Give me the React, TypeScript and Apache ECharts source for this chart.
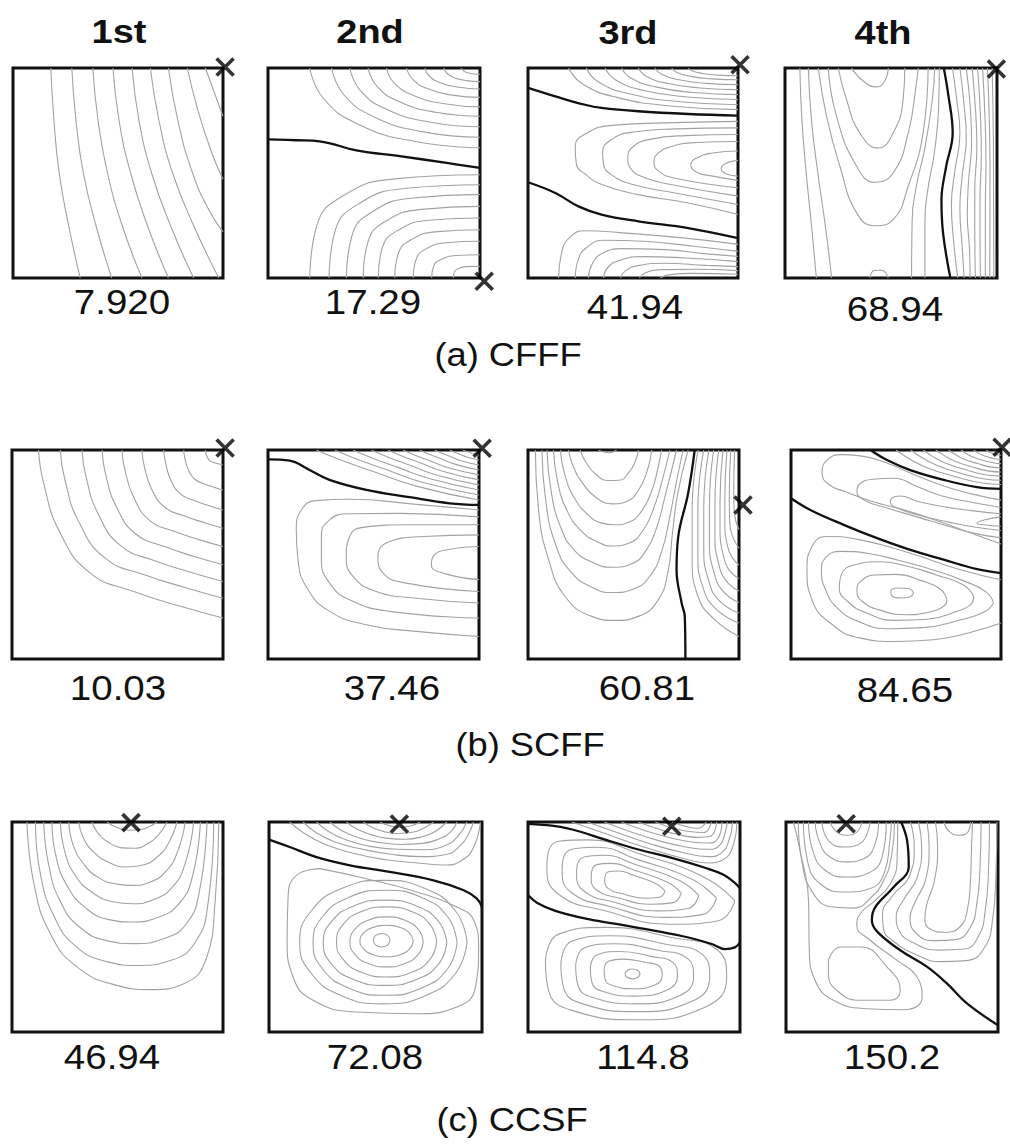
import React, { useEffect, useRef } from "react";
import * as echarts from "echarts";

type Pt = [number, number];

// ---------- text content ----------
const HEADS = ["1st", "2nd", "3rd", "4th"];
const FREQS = ["7.920", "17.29", "41.94", "68.94", "10.03", "37.46", "60.81", "84.65", "46.94", "72.08", "114.8", "150.2"];
const CAPTIONS = ["(a) CFFF", "(b) SCFF", "(c) CCSF"];

// ---------- contour data (u: 0..100 left->right, v: 0..100 top->bottom) ----------
const P1_THIN: Pt[][] = [
  [[18, 0], [19.5, 25], [22, 50], [26.5, 75], [32, 100]],
  [[28, 0], [30, 25], [33.5, 50], [39.5, 75], [47, 100]],
  [[38, 0], [40.5, 25], [45, 50], [52, 75], [61.4, 100]],
  [[47.6, 0], [50.5, 25], [56, 50], [64, 75], [74, 100]],
  [[56.7, 0], [60, 25], [66, 50], [75, 75], [86, 100]],
  [[65.4, 0], [69.5, 25], [76, 50], [86, 75], [98, 100]],
  [[74, 0], [78.5, 25], [85.5, 50], [93.5, 68], [100, 78]],
  [[83, 0], [88, 20], [94.5, 40], [100, 53]],
  [[91.6, 0], [96, 12], [100, 23]],
];
const P1_THICK: Pt[][] = [];

const P2_THIN: Pt[][] = [
  [[19.7, 0], [26.1, 14.4], [43, 27], [69.5, 35], [100, 38]],
  [[30, 0], [35.6, 12.5], [50.3, 23.4], [73.4, 30.4], [100, 33]],
  [[38.6, 0], [43.5, 10.6], [56.4, 19.9], [76.7, 25.8], [100, 28]],
  [[47.2, 0], [51.4, 8.7], [62.5, 16.3], [79.9, 21.2], [100, 23]],
  [[55.9, 0], [59.4, 7], [68.7, 13.1], [83.2, 17], [100, 18.5]],
  [[65.4, 0], [68.2, 5.3], [75.4, 9.9], [86.9, 12.9], [100, 14]],
  [[74, 0], [76, 3.8], [81.5, 7.1], [90.1, 9.2], [100, 10]],
  [[83, 0], [84.4, 2.5], [87.9, 4.6], [93.5, 6], [100, 6.5]],
  [[91, 0], [93.6, 2.1], [100, 3]],
  [[19.7, 100], [22.9, 75.4], [35.8, 60.6], [59.9, 52.8], [100, 50.8]],
  [[28.8, 100], [31.6, 77.8], [43, 64.5], [64.4, 57.4], [100, 55.6]],
  [[37, 100], [39.5, 80.2], [49.6, 68.2], [68.5, 61.9], [100, 60.3]],
  [[44.9, 100], [47.1, 83], [55.9, 72.7], [72.5, 67.3], [100, 65.9]],
  [[52, 100], [53.9, 85.7], [61.6, 77.1], [76, 72.5], [100, 71.4]],
  [[59.8, 100], [61.4, 88.5], [67.8, 81.6], [79.9, 77.9], [100, 77]],
  [[68.5, 100], [69.8, 91.3], [74.8, 86], [84.3, 83.2], [100, 82.5]],
  [[77.2, 100], [78.1, 94.5], [81.8, 91.1], [88.6, 89.3], [100, 88.9]],
  [[87.4, 100], [87.9, 97.2], [89.9, 95.5], [93.7, 94.6], [100, 94.4]],
];
const P2_THICK: Pt[][] = [
  [[0, 34], [13.4, 34.4], [24.4, 34.9], [41.7, 39.2], [62.2, 42], [84.3, 45.2], [100, 47.6]],
];

const P3_THIN: Pt[][] = [
  [[19.3, 0], [25.8, 7.5], [42.7, 14.1], [69.3, 18.2], [100, 19.8]],
  [[27.8, 0], [33.6, 6.7], [48.7, 12.4], [72.6, 16.1], [100, 17.5]],
  [[36.7, 0], [41.8, 5.7], [55.1, 10.7], [75.9, 13.8], [100, 15]],
  [[44.6, 0], [49, 4.8], [60.7, 9], [78.9, 11.7], [100, 12.7]],
  [[52.5, 0], [56.3, 3.9], [66.3, 7.3], [82, 9.5], [100, 10.3]],
  [[60.4, 0], [63.6, 3], [71.9, 5.6], [85, 7.3], [100, 7.9]],
  [[68.4, 0], [70.9, 2.1], [77.6, 4], [88, 5.2], [100, 5.6]],
  [[76.3, 0], [78.2, 1.4], [83.2, 2.6], [91, 3.4], [100, 3.7]],
  [[100, 25.4], [70, 26], [40, 27.3], [28, 31], [22.5, 37.5], [23, 45.5], [27.6, 50.8], [35.5, 55.6], [52.5, 60.3], [76.3, 64.3], [100, 69.8]],
  [[100, 28.5], [70, 29], [50, 30.5], [40, 34], [35.5, 40], [36, 46], [40, 51], [50, 55.5], [70, 59.5], [100, 65]],
  [[100, 31.7], [75, 32.2], [58, 34], [50, 37.5], [47.5, 43], [49, 48], [55, 52], [68, 55.5], [100, 61]],
  [[100, 35], [80, 35.5], [68, 37.5], [61.5, 41], [60, 45], [62, 49], [70, 52.5], [100, 57]],
  [[100, 39.5], [88, 40.5], [80, 43], [77.5, 46], [80, 49.5], [88, 51.5], [100, 53.5]],
  [[100, 44], [94, 45.5], [92, 48], [94, 50.2], [100, 51.5]],
  [[14.6, 100], [16, 88], [19.5, 81], [27, 77.5], [45, 78.5], [75, 81], [100, 84]],
  [[22.5, 100], [24, 91], [28, 85.5], [36, 82], [55, 82.5], [80, 85], [100, 87.3]],
  [[28.8, 100], [30.5, 93.5], [35, 88.5], [45, 86], [65, 86.5], [85, 88.5], [100, 89.7]],
  [[36, 100], [38, 95], [44, 91.5], [55, 89.8], [75, 90.5], [100, 92.2]],
  [[44, 100], [46.5, 96.5], [53, 94], [65, 93], [85, 94], [100, 94.6]],
  [[53, 100], [56, 97.5], [64, 96], [80, 95.8], [100, 96.5]],
  [[63, 100], [67, 98.5], [78, 97.8], [100, 98.2]],
];
const P3_THICK: Pt[][] = [
  [[0, 9.5], [13, 13.5], [27.2, 17.5], [35, 19], [52.5, 20.6], [76.3, 21.9], [100, 22.7]],
  [[0, 54.4], [13, 59.5], [24, 65.9], [35, 69.8], [52.5, 73], [76.3, 76.2], [100, 81]],
];

const P4_THIN: Pt[][] = [
  [[79, 0], [81, 15], [82.5, 31], [80, 50], [78.5, 65], [79.5, 82], [81.5, 100]],
  [[82.5, 0], [84.5, 18], [85.5, 33], [83.5, 52], [82.5, 67], [83.5, 84], [84.5, 100]],
  [[85.5, 0], [87.5, 20], [88, 35], [86.5, 55], [86, 70], [87, 86], [87.3, 100]],
  [[88.3, 0], [90, 22], [90.5, 38], [89.5, 58], [89.5, 75], [89.8, 100]],
  [[90.8, 0], [92.3, 25], [92.6, 42], [92, 62], [92, 80], [92.2, 100]],
  [[93.2, 0], [94.5, 28], [94.8, 46], [94.5, 66], [94.5, 100]],
  [[95.5, 0], [96.5, 30], [96.7, 50], [96.6, 100]],
  [[97.7, 0], [98.3, 35], [98.5, 100]],
  [[7, 0], [8, 25], [10, 50], [12.5, 75], [14.8, 100]],
  [[11, 0], [12.5, 25], [15.5, 50], [19, 75], [22, 100]],
  [[15.7, 0], [19.6, 23], [25.9, 46.8], [33.8, 69], [42.4, 75.1], [51, 72.2], [58.1, 56.3], [65.1, 31], [67.5, 0]],
  [[20.4, 0], [24.3, 23], [33.8, 46.8], [42.4, 54.4], [51, 50], [58.1, 31], [62, 7.1], [62.8, 0]],
  [[25.1, 0], [29, 15], [35.3, 31], [44, 38.1], [51, 31], [55.7, 15], [56.5, 0]],
  [[31.4, 0], [37, 6.3], [43.2, 9], [47, 6.3], [48.7, 0]],
  [[40, 100], [42.4, 96.3], [45.5, 96.3], [48.7, 100]],
  [[70.6, 0], [69.5, 15], [66, 38], [62, 56], [60, 72], [59.7, 100]],
  [[72.8, 0], [72.5, 18], [70.5, 40], [67.5, 57], [66, 73], [66, 100]],
];
const P4_THICK: Pt[][] = [
  [[74.9, 0], [76.9, 12], [79.1, 31], [76, 47], [73.8, 63], [74.6, 79], [78, 100]],
];

const P5_THIN: Pt[][] = [
  [[12.6, 0], [15, 15.9], [22.9, 39.8], [37.1, 58.9], [57.7, 67.7], [79.9, 74.8], [100, 80.4]],
  [[22.9, 0], [25, 14], [32, 35.1], [44.5, 52], [62.7, 59.7], [82.3, 65.9], [100, 70.9]],
  [[33.2, 0], [35, 12.5], [41.1, 31.1], [51.9, 46.1], [67.7, 53], [84.6, 58.5], [100, 62.9]],
  [[42.7, 0], [44.2, 10.9], [49.5, 27.2], [58.7, 40.2], [72.3, 46.2], [86.8, 51.1], [100, 54.9]],
  [[52.1, 0], [53.4, 9.1], [57.8, 22.9], [65.5, 33.9], [76.8, 38.9], [89, 43], [100, 46.2]],
  [[61.6, 0], [62.6, 7.4], [66.1, 18.5], [72.4, 27.4], [81.4, 31.5], [91.2, 34.8], [100, 37.4]],
  [[71.9, 0], [72.7, 5.7], [75.2, 14.2], [79.8, 21], [86.4, 24.2], [93.5, 26.7], [100, 28.7]],
  [[81.4, 0], [81.9, 3.8], [83.6, 9.5], [86.6, 14], [91, 16.1], [95.7, 17.8], [100, 19.1]],
  [[91.6, 0], [91.8, 1.4], [92.6, 3.6], [94, 5.3], [95.9, 6.1], [98.1, 6.7], [100, 7.2]],
];
const P5_THICK: Pt[][] = [];

const P6_THIN: Pt[][] = [
  [[22.9, 0], [34.5, 4.8], [49.9, 10.3], [70.7, 17.4], [100, 23.9]],
  [[31.6, 0], [41.9, 4.3], [55.5, 9.2], [74, 15.7], [100, 21.5]],
  [[40.3, 0], [49.3, 3.8], [61.2, 8.2], [77.3, 13.9], [100, 19.1]],
  [[49, 0], [56.7, 3.3], [66.9, 7.2], [80.6, 12.2], [100, 16.7]],
  [[56.9, 0], [63.4, 2.9], [72, 6.1], [83.6, 10.4], [100, 14.3]],
  [[64, 0], [69.4, 2.4], [76.6, 5.1], [86.3, 8.7], [100, 11.9]],
  [[71.9, 0], [76.1, 1.9], [81.7, 4.1], [89.3, 7], [100, 9.6]],
  [[79, 0], [82.2, 1.4], [86.4, 3.1], [92, 5.3], [100, 7.2]],
  [[86.1, 0], [88.2, 1], [91, 2.1], [94.7, 3.5], [100, 4.8]],
  [[92.4, 0], [93.5, 0.5], [95.1, 1], [97.1, 1.8], [100, 2.4]],
  [[100, 28.7], [70.3, 26], [38.7, 23.6], [22.9, 24.2], [15.8, 28.7], [13.4, 38.2], [14.2, 52.5], [19, 66.9], [29.2, 77.2], [46.6, 83.6], [70.3, 86.8], [100, 89.2]],
  [[100, 32], [62.4, 30.3], [38.7, 30.5], [29.2, 33.4], [25.3, 41.4], [25.3, 52.5], [29.2, 63.7], [38.7, 71.7], [57.7, 77.2], [100, 80.4]],
  [[100, 35.8], [67.1, 35.8], [45, 37], [38.7, 41.4], [37.1, 51], [40.3, 60.5], [51.3, 67.7], [70.3, 70.9], [100, 73.2]],
  [[100, 40.6], [73.5, 41.4], [57.7, 43.8], [52.1, 51], [54.5, 58.9], [65.6, 63.7], [100, 67.7]],
  [[100, 46.2], [86.1, 47.5], [78.2, 51], [77.4, 55], [82.9, 58.9], [100, 62]],
];
const P6_THICK: Pt[][] = [
  [[0, 4.5], [10.3, 5.1], [19.7, 9.6], [29.1, 14.3], [46.6, 19.1], [67.1, 22.6], [86.1, 25.5], [100, 26.3]],
];

const P7_THIN: Pt[][] = [
  [[33.4, 0], [36, 1], [38.5, 1.3], [42, 0]],
  [[24.7, 0], [27.5, 6], [32, 11.5], [38, 14.6], [43, 14.5], [48, 10.5], [51, 5], [52.3, 0]],
  [[19.2, 0], [21.5, 8], [26, 16], [32, 22.5], [40, 25.8], [47, 24.5], [52.5, 19], [56.5, 10], [58.6, 0]],
  [[15.3, 0], [17.5, 12], [22, 23], [28.5, 31], [35, 35], [41, 35.8], [48, 34.5], [54, 29], [58.5, 20], [61.5, 9], [63.3, 0]],
  [[12.1, 0], [14, 15], [18.5, 29], [25, 38.5], [33, 44], [40, 45.9], [48, 44.5], [54.5, 38.5], [59.5, 28], [63.5, 15], [67.2, 0]],
  [[9, 0], [11, 20], [15.5, 37], [22, 48], [31, 54], [40, 56.1], [49, 54.5], [56, 48], [61, 37], [65, 22], [70.4, 0]],
  [[6.6, 0], [8.5, 25], [13, 45], [20, 58], [30, 65.5], [40, 68.2], [50, 66.5], [58, 60], [63.5, 48], [67, 33], [70, 17], [73.5, 0]],
  [[3.5, 0], [5, 28.7], [9.8, 52.5], [17.6, 70.1], [30.2, 79.6], [41.3, 81.5], [52.3, 79.6], [61.7, 71.7], [66.5, 57.3], [68.3, 41.4], [71, 20.7], [75.9, 0]],
  [[80.6, 0], [77.8, 28.7], [77.8, 52.5], [80.6, 70.1], [88.5, 81.2], [100, 89.2]],
  [[83.3, 0], [80.5, 28], [80.5, 50], [83, 66], [89, 76], [100, 82.8]],
  [[85.7, 0], [83.3, 28], [83.3, 48], [85.5, 62], [90.5, 72], [100, 78]],
  [[88, 0], [86, 27], [86, 45], [88, 58], [92, 67], [100, 73]],
  [[90.4, 0], [88.6, 26], [88.6, 42], [90.3, 54], [93.5, 62], [100, 67.5]],
  [[92.4, 0], [91, 25], [91, 40], [92.5, 50], [95, 57], [100, 61.5]],
  [[94.3, 0], [93.3, 24], [93.3, 37], [94.6, 46], [96.5, 51], [100, 55]],
  [[96.1, 0], [95.4, 22], [95.6, 34], [96.8, 41], [100, 47]],
  [[97.9, 0], [97.5, 20], [97.8, 30], [100, 38]],
];
const P7_THICK: Pt[][] = [
  [[79, 0], [75.9, 20.7], [71.2, 41.4], [70.4, 57.3], [72.8, 73.2], [74.3, 79.6], [74.6, 100]],
];

const P8_THIN: Pt[][] = [
  [[50, 0], [56.5, 4.3], [65, 8.6], [78, 12.7], [91, 15.8], [100, 16.5]],
  [[57, 0], [62.6, 3.8], [69.9, 7.5], [81.1, 11.2], [92.3, 13.9], [100, 14.5]],
  [[63, 0], [67.8, 3.3], [74.1, 6.5], [83.7, 9.6], [93.3, 12], [100, 12.5]],
  [[69, 0], [73, 2.7], [78.3, 5.5], [86.4, 8.1], [94.4, 10.1], [100, 10.5]],
  [[75, 0], [78.3, 2.2], [82.5, 4.4], [89, 6.5], [95.5, 8.2], [100, 8.5]],
  [[81, 0], [83.5, 1.7], [86.7, 3.4], [91.6, 5], [96.6, 6.2], [100, 6.5]],
  [[87, 0], [88.7, 1.2], [90.9, 2.3], [94.3, 3.5], [97.7, 4.3], [100, 4.5]],
  [[93, 0], [93.9, 0.7], [95.1, 1.3], [96.9, 1.9], [98.7, 2.4], [100, 2.5]],
  [[100, 24], [86, 21], [72, 17], [58, 11.5], [45, 6], [33, 2.8], [24, 2.2], [17, 5], [14.8, 11], [18, 16.5], [26, 20], [40, 25], [55, 29], [70, 34], [85, 39.5], [100, 45]],
  [[100, 27.5], [86, 25], [72, 22], [60, 17.5], [49, 13.5], [39, 14], [32.5, 16.5], [31.4, 20], [35, 24], [45, 27.5], [60, 32], [75, 36.5], [88, 40], [100, 42]],
  [[100, 30.5], [86, 29], [72, 27], [60, 24.5], [52, 22], [48, 23], [47.3, 25], [50, 27.5], [60, 31], [75, 34.5], [88, 37], [100, 38.5]],
  [[100, 32], [92, 33.5], [88.6, 35], [92, 35.8], [100, 36.5]],
  [[100, 62.1], [80.6, 57.3], [56.8, 49.4], [33, 43], [17.1, 41.4], [10, 46.2], [7.6, 57.3], [10, 71.7], [18.7, 82.8], [33, 90], [48.9, 91.6], [67.9, 90.8], [87, 86.8], [100, 82.8]],
  [[96.5, 73.2], [93, 68], [82, 62.5], [68, 57.5], [52, 53], [37, 49.5], [24, 48.5], [16.5, 51.5], [14.5, 58], [16.5, 67], [22, 75.5], [32, 82], [47, 85.5], [63, 85], [80, 81.5], [92, 77.5], [96.5, 73.2]],
  [[87, 70], [82, 64.5], [70, 60], [55, 55.5], [42, 53.5], [30, 55], [24, 59.5], [23, 66], [27, 72.5], [36, 78], [50, 81.5], [65, 81], [78, 77.5], [86, 73.5], [87, 70]],
  [[74.3, 71.7], [71, 66.5], [62, 62.5], [50, 59.5], [40, 59.8], [33, 63], [31.4, 67.5], [34, 72.5], [42, 76.5], [54, 78.8], [66, 77.5], [73, 74.5], [74.3, 71.7]],
  [[58.4, 68.5], [56, 66.3], [51, 66], [47.5, 67.5], [48, 69.8], [52, 70.8], [56.5, 70.3], [58.4, 68.5]],
];
const P8_THICK: Pt[][] = [
  [[37.8, 0], [45.7, 4.8], [56.8, 9.6], [72.7, 14.3], [88.6, 17.8], [100, 18.6]],
  [[0, 23.1], [9.2, 28.7], [25.1, 35.8], [41, 42.2], [56.8, 47.8], [72.7, 52.5], [88.6, 57], [100, 58.9]],
];

const P9_THIN: Pt[][] = [
  [[45, 0], [49, 2.3], [55, 3.9], [61, 3.6], [65.5, 2], [68.7, 0]],
  [[37.9, 0], [40.5, 5], [45.5, 9.5], [52, 12.3], [58, 12.5], [64, 10.5], [69.5, 6], [73.5, 0]],
  [[31.6, 0], [34, 8], [39, 14.5], [46, 19.3], [54, 21.4], [62, 20.5], [69, 16.5], [74.5, 9.5], [78.2, 0]],
  [[26.9, 0], [29, 11], [34, 20], [41, 26.5], [50, 29.6], [57, 30.2], [65, 28.8], [73, 23.5], [78.5, 14], [82.1, 0]],
  [[22.9, 0], [25, 14], [30, 25.5], [38, 33.5], [48, 38], [57, 38.9], [67, 37], [76, 31], [82, 20], [86.1, 0]],
  [[18.9, 0], [21, 17], [26.5, 31], [35, 41], [46, 46.5], [57, 47.6], [69, 45.5], [79, 39], [85.5, 26], [89.3, 0]],
  [[15, 0], [17.5, 21], [23, 38], [32, 50], [45, 56.5], [58, 57.9], [72, 55.5], [83, 48], [89, 32], [92.4, 0]],
  [[11.1, 0], [13.5, 25], [20, 45], [30, 59], [45, 66.5], [60, 68.3], [75, 66], [87, 57], [93, 38], [95.6, 0]],
  [[7.1, 0], [10.4, 29.4], [18.2, 53.2], [30.8, 69], [49.8, 77.8], [65.6, 79.8], [81.4, 77], [92.3, 64.3], [96.3, 37.3], [98, 0]],
];
const P9_THICK: Pt[][] = [];

const P10_THIN: Pt[][] = [
  [[52.1, 0], [56, 1.6], [61, 2.5], [66, 2], [71, 0]],
  [[44.3, 0], [48, 2.4], [54, 4.6], [61, 5.5], [68, 4.8], [73.5, 2.5], [77.2, 0]],
  [[36.4, 0], [41, 3.2], [48, 6], [56, 7.8], [64, 8.2], [72, 7], [78, 4.5], [83.5, 0]],
  [[28.6, 0], [34, 4], [42, 7.5], [52, 9.8], [62, 10.7], [72, 10.2], [80, 8], [85.5, 4.5], [88.2, 0]],
  [[22.3, 0], [28, 4.5], [36, 8.5], [47, 11.5], [60, 13], [72, 13.2], [82, 11.5], [88.5, 7], [92.9, 0]],
  [[16, 0], [22, 5], [31, 9.5], [44, 13], [58, 15.5], [72, 16.5], [83, 15.5], [90, 11], [94, 5], [96, 0]],
  [[9.7, 0], [16, 5], [26, 10.5], [40, 15], [55, 18], [70, 19.5], [82, 20.5], [91, 18], [96.5, 11], [99.2, 0]],
  [[23.9, 22.2], [12.9, 25.4], [8.9, 37.3], [8.5, 56.3], [11.3, 73.8], [20.7, 84.9], [41.1, 90.5], [69.4, 91.3], [88.2, 88.1], [96.9, 78.6], [98.4, 59.5], [96.1, 46.8], [88.2, 40.5], [69.4, 33.3], [45.8, 27], [23.9, 22.2]],
  [[93, 57.2], [87.7, 71.9], [73.35, 82.7], [53.7, 86.6], [34.05, 82.7], [19.7, 71.9], [14.4, 57.2], [19.7, 42.5], [34.05, 31.7], [53.7, 27.8], [73.35, 31.7], [87.7, 42.5], [93, 57.2]],
  [[88.3, 57.5], [83.8, 70], [71.4, 79.15], [54.5, 82.5], [37.6, 79.15], [25.2, 70], [20.7, 57.5], [25.2, 45], [37.6, 35.85], [54.5, 32.5], [71.4, 35.85], [83.8, 45], [88.3, 57.5]],
  [[83.5, 57.5], [79.6, 67.65], [69, 75.1], [54.5, 77.8], [40, 75.1], [29.4, 67.65], [25.5, 57.5], [29.4, 47.35], [40, 39.9], [54.5, 37.2], [69, 39.9], [79.6, 47.35], [83.5, 57.5]],
  [[78.7, 57.1], [75.55, 65.45], [66.95, 71.6], [55.2, 73.8], [43.45, 71.6], [34.85, 65.45], [31.7, 57.1], [34.85, 48.75], [43.45, 42.6], [55.2, 40.4], [66.95, 42.6], [75.55, 48.75], [78.7, 57.1]],
  [[72.4, 57.1], [70.1, 63.05], [63.8, 67.4], [55.2, 69], [46.6, 67.4], [40.3, 63.05], [38, 57.1], [40.3, 51.15], [46.6, 46.8], [55.2, 45.2], [63.8, 46.8], [70.1, 51.15], [72.4, 57.1]],
  [[67.7, 56.7], [66, 60.45], [61.45, 63.2], [55.2, 64.2], [48.95, 63.2], [44.4, 60.45], [42.7, 56.7], [44.4, 52.95], [48.95, 50.2], [55.2, 49.2], [61.45, 50.2], [66, 52.95], [67.7, 56.7]],
  [[56.8, 56.3], [55.7, 58.6], [52.9, 59.5], [50.1, 58.6], [49, 56.3], [50.1, 54], [52.9, 53.1], [55.7, 54], [56.8, 56.3]],
];
const P10_THICK: Pt[][] = [
  [[0, 8.4], [9.7, 11.9], [22.3, 16.7], [38, 20.6], [56.8, 23.8], [77.2, 27.8], [91.4, 32.5], [97.6, 36.5], [100, 40.5]],
];

const P11_THIN: Pt[][] = [
  [[20.7, 0], [35, 5], [55, 12], [72, 17], [85, 19.5], [92, 18], [96.5, 12], [98.5, 0]],
  [[28, 0], [42, 5], [58, 10.5], [73, 14.5], [85, 16.5], [91.5, 14.5], [95, 8], [96.5, 0]],
  [[36, 0], [48, 4.5], [62, 9], [75, 12], [85, 13], [90.5, 11], [93, 5], [94, 0]],
  [[44, 0], [55, 4], [67, 7.5], [77, 9.5], [85, 10], [89.5, 8], [91.5, 0]],
  [[52, 0], [62, 3.5], [71, 6], [80, 7.3], [86, 6.8], [89, 0]],
  [[60, 0], [68, 2.8], [76, 4.5], [83, 5], [86.5, 0]],
  [[68, 0], [74, 2], [80, 3], [84, 0]],
  [[97.6, 37.6], [89.8, 47], [67.8, 48.7], [36.4, 42.3], [14.4, 34.4], [8.9, 21.8], [14.4, 9.2], [28.6, 8.5], [52.1, 15], [83.5, 26.5], [97.6, 37.6]],
  [[88.9, 36.3], [82.5, 44], [64.4, 45.4], [38.7, 40.2], [20.6, 33.7], [16.1, 23.4], [20.6, 13], [32.3, 12], [51.5, 17.8], [77.3, 27.2], [88.9, 36.3]],
  [[80.6, 35.1], [75.5, 41.2], [61.2, 42.3], [40.8, 38.2], [26.5, 33], [22.9, 24.8], [26.5, 16.7], [35.7, 15.8], [51, 20.4], [71.4, 27.9], [80.6, 35.1]],
  [[72.3, 33.9], [68.6, 38.4], [58, 39.2], [43, 36.2], [32.4, 32.4], [29.8, 26.3], [32.4, 20.3], [39.2, 19.7], [50.5, 23.1], [65.6, 28.6], [72.3, 33.9]],
  [[64.6, 32.8], [62.1, 35.8], [55, 36.3], [45, 34.3], [37.9, 31.7], [36.2, 27.7], [37.9, 23.7], [42.5, 23.3], [50, 25.5], [60, 29.2], [64.6, 32.8]],
  [[8.2, 66], [14.4, 53.4], [36.4, 50.2], [67.8, 55], [89.8, 61.3], [93.7, 73.9], [83.5, 88.2], [52.1, 94.2], [20.7, 89.7], [9.7, 80.3], [8.2, 66]],
  [[15.5, 67.2], [20.6, 56.8], [38.7, 54.2], [64.4, 58.1], [82.5, 63.3], [85.7, 73.6], [77.3, 85.4], [51.5, 90.3], [25.8, 86.6], [16.8, 78.9], [15.5, 67.2]],
  [[22.5, 68.2], [26.5, 60], [40.8, 58], [61.2, 61.1], [75.5, 65.2], [78.1, 73.4], [71.4, 82.7], [51, 86.6], [30.6, 83.6], [23.5, 77.5], [22.5, 68.2]],
  [[29.4, 69.3], [32.4, 63.3], [43, 61.7], [58, 64], [68.6, 67.1], [70.5, 73.1], [65.6, 80], [50.5, 82.9], [35.4, 80.7], [30.1, 76.2], [29.4, 69.3]],
  [[35.9, 70.4], [37.9, 66.3], [45, 65.3], [55, 66.8], [62.1, 68.8], [63.3, 72.9], [60, 77.5], [50, 79.4], [39.9, 77.9], [36.4, 74.9], [35.9, 70.4]],
  [[52.9, 72.4], [51.5, 74.2], [49.3, 74.7], [46.5, 73.8], [45.8, 72.4], [47, 70.6], [49.5, 70], [51.8, 70.7], [52.9, 72.4]],
];
const P11_THICK: Pt[][] = [
  [[0, 0.9], [12.9, 2], [23.9, 4.4], [36.4, 8.4], [52.1, 13.1], [67.8, 17.1], [83.5, 21.8], [92, 25], [97, 28.5], [100, 31.5]],
  [[0, 34.8], [4.2, 38.4], [12.9, 42.3], [28.6, 46.3], [44.3, 49], [60, 51.8], [75.7, 55], [86.7, 58.1], [92.9, 60.5], [97.6, 59.7], [100, 57.3]],
];

const P12_THIN: Pt[][] = [
  [[3.5, 0], [6.6, 13.5], [10.6, 37.3], [11, 61.1], [13.7, 75.4], [22.4, 84.9], [38.2, 88.9], [55.5, 89.4], [64.2, 83.3], [61.8, 73.8], [52.4, 65.9], [39.7, 56.3], [33.4, 49.2], [35, 43.7], [42.1, 37.3], [49.2, 29.4], [52.4, 18.3], [52.7, 0]],
  [[20, 65.9], [25.6, 59.5], [35, 59.5], [47.6, 69], [53.9, 80.2], [49.2, 84.9], [35, 84.9], [24, 80.2], [20, 72.2], [20, 65.9]],
  [[20.8, 0], [24, 4.8], [28.7, 6.3], [33.4, 4.8], [35.8, 0]],
  [[16.9, 0], [20, 8.7], [27.1, 11.9], [35, 10.3], [39.7, 0]],
  [[13.7, 0], [16.1, 10.3], [20.8, 16.7], [28.7, 19], [36.6, 17.5], [42.1, 10.3], [43.7, 0]],
  [[10.6, 0], [12.6, 13.5], [18.5, 23], [28.7, 26.2], [38.2, 24.6], [45.3, 16.7], [47.3, 0]],
  [[8.2, 0], [9.8, 16.7], [16.1, 29.4], [28.7, 33.3], [39.7, 31.7], [46.5, 23.8], [49, 8.7], [49.7, 0]],
  [[5.8, 0], [7.4, 18.3], [12.9, 34.1], [22, 40.5], [32, 41], [40, 36], [46, 28], [49.8, 16], [51.2, 0]],
  [[58.7, 0], [60.5, 12], [58.5, 25], [50, 35.5], [45.5, 44], [46, 51], [51, 57], [61, 63], [73, 66.5], [85, 66], [93.5, 60], [97.5, 46], [99, 25], [99.5, 0]],
  [[62.5, 0], [64, 12], [62, 26], [55.5, 37], [52, 45], [53.5, 52], [60, 57.5], [72, 61], [84, 60.5], [91, 54], [94, 42], [95.5, 24], [96, 0]],
  [[66.5, 0], [67.5, 12], [66, 27], [61, 38], [58.5, 46], [61, 52.5], [69, 56.5], [80, 56], [87, 50], [90, 39], [91.5, 22], [92, 0]],
  [[70.5, 0], [71.5, 12], [70, 28], [66.5, 39], [65.5, 46], [68, 51], [75, 52.5], [82, 50], [85.5, 42], [87, 28], [87.5, 12], [88, 0]],
  [[74.5, 0], [77, 4.5], [81.5, 6.3], [86, 4.5], [87, 0]],
];
const P12_THICK: Pt[][] = [
  [[54.3, 0], [57.1, 8.7], [57.9, 21.4], [50.8, 31], [42.1, 40.5], [40.5, 46.8], [42.9, 52.1], [53.9, 61.1], [66.6, 69], [76, 77], [85.5, 86.5], [100, 96.8]],
];

// excitation points "×"
const MARKERS: Pt[] = [
  [101, -0.5], [102, 101.5], [101, -1.5], [99.7, 0.5],
  [101, -1], [101.5, -0.8], [101.9, 26.3], [100.5, -1.3],
  [56.4, 0.3], [61.2, 1], [67.8, 2], [28.4, 0.8],
];

// ---------- layout ----------
const GRIDS = [
  { left: 13, top: 68, width: 210, height: 210 },
  { left: 268, top: 68, width: 212, height: 210 },
  { left: 528, top: 68, width: 210, height: 210 },
  { left: 785, top: 68, width: 212, height: 210 },
  { left: 12, top: 450, width: 211, height: 209 },
  { left: 268, top: 450, width: 211, height: 209 },
  { left: 528, top: 450, width: 211, height: 209 },
  { left: 791, top: 450, width: 210, height: 209 },
  { left: 12, top: 822, width: 211, height: 210 },
  { left: 269, top: 822, width: 213, height: 210 },
  { left: 528, top: 822, width: 212, height: 210 },
  { left: 786, top: 822, width: 212, height: 210 },
];
const HEAD_POS: Pt[] = [[119, 32], [370, 32], [628, 33], [883, 33]];
const FREQ_POS: Pt[] = [
  [122, 302], [373, 302], [635, 307], [895, 309],
  [118, 688], [392, 688], [647, 688], [905, 690],
  [112, 1057], [375, 1057], [643, 1057], [892, 1057],
];
const CAPTION_POS: Pt[] = [[508, 355], [530, 745], [512, 1120]];

const PANELS = [
  { thin: P1_THIN, thick: P1_THICK },
  { thin: P2_THIN, thick: P2_THICK },
  { thin: P3_THIN, thick: P3_THICK },
  { thin: P4_THIN, thick: P4_THICK },
  { thin: P5_THIN, thick: P5_THICK },
  { thin: P6_THIN, thick: P6_THICK },
  { thin: P7_THIN, thick: P7_THICK },
  { thin: P8_THIN, thick: P8_THICK },
  { thin: P9_THIN, thick: P9_THICK },
  { thin: P10_THIN, thick: P10_THICK },
  { thin: P11_THIN, thick: P11_THICK },
  { thin: P12_THIN, thick: P12_THICK },
];

const FONT = '"Liberation Sans", Arial, Helvetica, sans-serif';

function buildOption() {
  const grid = GRIDS.map((g) => ({
    ...g,
    show: true,
    borderColor: "#111",
    borderWidth: 3,
    backgroundColor: "transparent",
    containLabel: false,
  }));
  const xAxis = GRIDS.map((_, i) => ({
    type: "value", gridIndex: i, min: 0, max: 100, show: false,
  }));
  const yAxis = GRIDS.map((_, i) => ({
    type: "value", gridIndex: i, min: 0, max: 100, inverse: true, show: false,
  }));
  const series: any[] = [];
  PANELS.forEach((p, i) => {
    p.thin.forEach((line) => {
      series.push({
        type: "line", xAxisIndex: i, yAxisIndex: i, data: line,
        smooth: 0.5, symbol: "none", silent: true, z: 2,
        lineStyle: { color: "#a2a2a2", width: 1.1 },
      });
    });
    p.thick.forEach((line) => {
      series.push({
        type: "line", xAxisIndex: i, yAxisIndex: i, data: line,
        smooth: 0.4, symbol: "none", silent: true, z: 3,
        lineStyle: { color: "#111", width: 2.3 },
      });
    });
    series.push({
      type: "scatter", xAxisIndex: i, yAxisIndex: i, data: [MARKERS[i]],
      symbol: "path://M0,0L10,10M10,0L0,10", symbolSize: 17,
      clip: false, silent: true, z: 5,
      itemStyle: { color: "none", borderColor: "#000", borderWidth: 3.6 },
    });
  });

  const graphic: any[] = [];
  HEADS.forEach((t, i) => {
    graphic.push({
      type: "text", x: HEAD_POS[i][0], y: HEAD_POS[i][1], scaleX: 1.15,
      style: { text: t, font: `bold 33px ${FONT}`, fill: "#111", align: "center", verticalAlign: "middle" },
    });
  });
  FREQS.forEach((t, i) => {
    graphic.push({
      type: "text", x: FREQ_POS[i][0], y: FREQ_POS[i][1], scaleX: 1.1,
      style: { text: t, font: `35px ${FONT}`, fill: "#111", align: "center", verticalAlign: "middle" },
    });
  });
  CAPTIONS.forEach((t, i) => {
    graphic.push({
      type: "text", x: CAPTION_POS[i][0], y: CAPTION_POS[i][1], scaleX: 1.1,
      style: { text: t, font: `33px ${FONT}`, fill: "#111", align: "center", verticalAlign: "middle" },
    });
  });

  return {
    animation: false,
    backgroundColor: "#ffffff",
    grid, xAxis, yAxis, series, graphic,
  };
}

export default function App() {
  const ref = useRef<HTMLDivElement>(null);
  useEffect(() => {
    if (!ref.current) return;
    const chart = echarts.init(ref.current, undefined, { renderer: "svg" });
    chart.setOption(buildOption() as any);
    return () => chart.dispose();
  }, []);
  return (
    <div
      ref={ref}
      style={{ position: "absolute", left: 0, top: 0, width: 1010, height: 1144, background: "#fff" }}
    />
  );
}
